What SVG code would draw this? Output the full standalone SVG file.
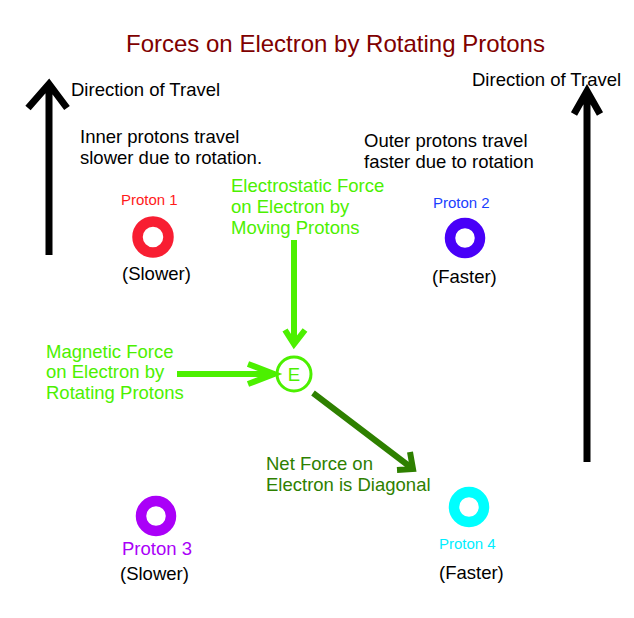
<svg xmlns="http://www.w3.org/2000/svg" width="634" height="618" viewBox="0 0 634 618">
<style>
text{font-family:"Liberation Sans",Arial,sans-serif;font-size:18.5px;fill:#000}
.title{font-size:24px;fill:#800000}
.small{font-size:15px}
.lg{fill:#4cf000}
.dg{fill:#2e8000}
.blk{stroke:#000;stroke-width:7;fill:none}
.lgs{stroke:#4cf000;stroke-width:6;fill:none}
.dgs{stroke:#2e8000;stroke-width:6;fill:none}
.ring{fill:none;stroke-width:10.5}
</style>
<rect width="634" height="618" fill="#fff"/>
<text class="title" x="126" y="52">Forces on Electron by Rotating Protons</text>
<g id="travel-left">
<path class="blk" d="M49 255V84M28 108L49 84L67 108"/>
<text x="71" y="96">Direction of Travel</text>
</g>
<g id="travel-right">
<path class="blk" d="M587 462V91M574 114L587 91L600 114"/>
<text x="472" y="86">Direction of Travel</text>
</g>
<g id="inner-note">
<text x="80" y="143">Inner protons travel</text>
<text x="80" y="164">slower due to rotation.</text>
</g>
<g id="outer-note">
<text x="364" y="147">Outer protons travel</text>
<text x="364" y="168">faster due to rotation</text>
</g>
<g id="proton1">
<text class="small" x="121" y="205" style="fill:#ff1a1a">Proton 1</text>
<circle class="ring" cx="153" cy="237" r="15.5" stroke="#f81e32"/>
<text x="122" y="280">(Slower)</text>
</g>
<g id="proton2">
<text class="small" x="433" y="208" style="fill:#1a40ff">Proton 2</text>
<circle class="ring" cx="465" cy="238" r="15" stroke="#4800f8"/>
<text x="432" y="283">(Faster)</text>
</g>
<g id="proton3">
<circle class="ring" cx="156" cy="516" r="15" stroke="#aa00f8"/>
<text x="122" y="555" style="fill:#aa00f8">Proton 3</text>
<text x="120" y="580">(Slower)</text>
</g>
<g id="proton4">
<circle class="ring" cx="469" cy="507" r="15" stroke="#00ffff"/>
<text class="small" x="439" y="549" style="fill:#00eeff">Proton 4</text>
<text x="439" y="579">(Faster)</text>
</g>
<g id="electron">
<circle cx="294" cy="374" r="17" fill="#fff" stroke="#4cf000" stroke-width="3"/>
<text class="lg" x="294" y="381" text-anchor="middle">E</text>
</g>
<g id="label-electrostatic">
<text class="lg" x="231" y="192">Electrostatic Force</text>
<text class="lg" x="231" y="213">on Electron by</text>
<text class="lg" x="231" y="234">Moving Protons</text>
</g>
<g id="label-magnetic">
<text class="lg" x="46" y="358">Magnetic Force</text>
<text class="lg" x="46" y="378">on Electron by</text>
<text class="lg" x="46" y="399">Rotating Protons</text>
</g>
<g id="label-net">
<text class="dg" x="266" y="470">Net Force on</text>
<text class="dg" x="266" y="491">Electron is Diagonal</text>
</g>
<g id="connectors">
<path class="lgs" d="M294 240V344M285 330L294 344L305 330"/>
<path class="lgs" d="M177 374H274M248 364L274 374L248 384"/>
<path class="dgs" d="M313 393L413 469M397 470L413 469L410 452"/>
</g>
</svg>
